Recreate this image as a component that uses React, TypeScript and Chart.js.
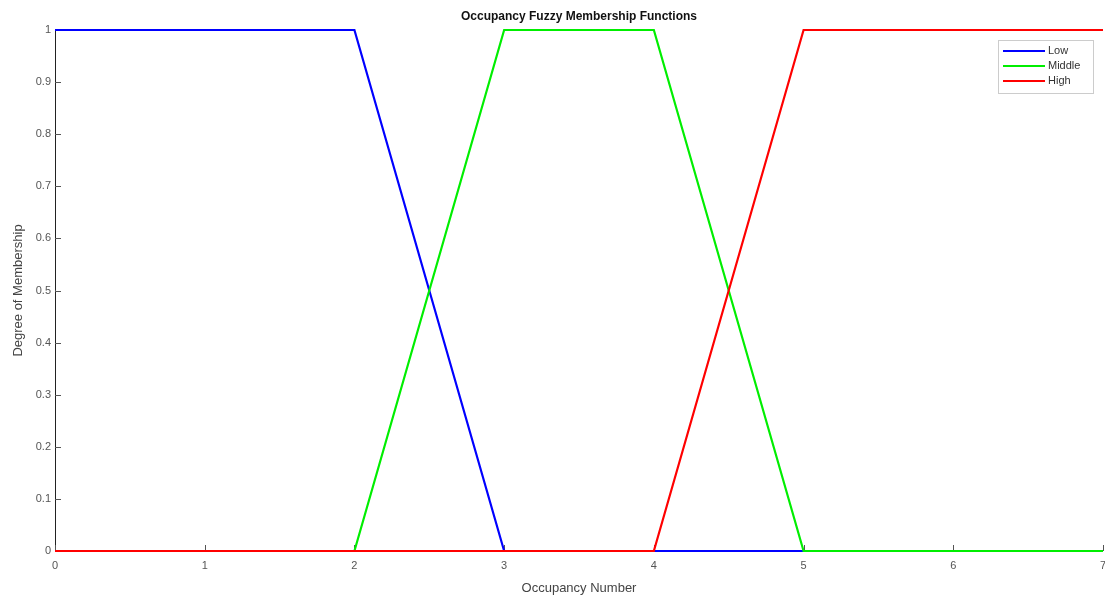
import React, { useEffect, useRef } from "react";
import { Chart, registerables } from "chart.js";
Chart.register(...registerables);

const xTicks = [0, 1, 2, 3, 4, 5, 6, 7];
const yTicks = [0, 0.1, 0.2, 0.3, 0.4, 0.5, 0.6, 0.7, 0.8, 0.9, 1];
const lowX = [0, 2, 3, 7];
const lowY = [1, 1, 0, 0];
const middleX = [0, 2, 3, 4, 5, 7];
const middleY = [0, 0, 1, 1, 0, 0];
const highX = [0, 4, 5, 7];
const highY = [0, 0, 1, 1];
const seriesNames = ["Low", "Middle", "High"];
const seriesColors = ["#0000ff", "#00ee00", "#ff0000"];

const FONT = "'Liberation Sans', Arial, sans-serif";

const pts = (xs: number[], ys: number[]) => xs.map((x, i) => ({ x, y: ys[i] }));

export default function App() {
  const ref = useRef<HTMLCanvasElement>(null);
  useEffect(() => {
    const decor = {
      id: "decor",
      beforeDatasetsDraw(chart: any) {
        const ctx = chart.ctx;
        const a = chart.chartArea;
        const xs = chart.scales.x;
        const ys = chart.scales.y;
        ctx.save();
        ctx.strokeStyle = "#222";
        ctx.lineWidth = 1;
        ctx.beginPath();
        ctx.moveTo(a.left + 0.5, a.top);
        ctx.lineTo(a.left + 0.5, a.bottom + 0.5);
        ctx.lineTo(a.right, a.bottom + 0.5);
        ctx.stroke();
        ctx.strokeStyle = "#555";
        ctx.beginPath();
        yTicks.forEach((v) => {
          const y = Math.round(ys.getPixelForValue(v)) + 0.5;
          ctx.moveTo(a.left, y);
          ctx.lineTo(a.left + 6, y);
        });
        xTicks.forEach((v) => {
          const x = Math.round(xs.getPixelForValue(v)) + 0.5;
          ctx.moveTo(x, a.bottom);
          ctx.lineTo(x, a.bottom - 6);
        });
        ctx.stroke();
        ctx.restore();
      },
      afterDraw(chart: any) {
        const ctx = chart.ctx;
        const a = chart.chartArea;
        const xs = chart.scales.x;
        const ys = chart.scales.y;
        ctx.save();
        ctx.fillStyle = "#555";
        ctx.font = `11px ${FONT}`;
        ctx.textAlign = "right";
        ctx.textBaseline = "middle";
        yTicks.forEach((v) => {
          ctx.fillText(String(v), a.left - 4, ys.getPixelForValue(v));
        });
        ctx.textAlign = "center";
        ctx.textBaseline = "top";
        xTicks.forEach((v) => {
          ctx.fillText(String(v), xs.getPixelForValue(v), a.bottom + 9);
        });
        const cx = (a.left + a.right) / 2;
        ctx.fillStyle = "#111";
        ctx.font = `bold 12px ${FONT}`;
        ctx.textBaseline = "middle";
        ctx.fillText("Occupancy Fuzzy Membership Functions", cx, 17);
        ctx.fillStyle = "#444";
        ctx.font = `13px ${FONT}`;
        ctx.fillText("Occupancy Number", cx, 588);
        ctx.save();
        ctx.translate(18, (a.top + a.bottom) / 2);
        ctx.rotate(-Math.PI / 2);
        ctx.fillText("Degree of Membership", 0, 0);
        ctx.restore();
        const lx = 998, ly = 40, lw = 95, lh = 53;
        ctx.fillStyle = "#fff";
        ctx.fillRect(lx, ly, lw, lh);
        ctx.strokeStyle = "#ccc";
        ctx.lineWidth = 1;
        ctx.strokeRect(lx + 0.5, ly + 0.5, lw, lh);
        ctx.font = `11px ${FONT}`;
        ctx.textAlign = "left";
        seriesNames.forEach((n, i) => {
          const y = 51 + i * 15;
          ctx.strokeStyle = seriesColors[i];
          ctx.lineWidth = 2;
          ctx.beginPath();
          ctx.moveTo(1003, y);
          ctx.lineTo(1045, y);
          ctx.stroke();
          ctx.fillStyle = "#333";
          ctx.fillText(n, 1048, y);
        });
        ctx.restore();
      },
    };
    const chart = new Chart(ref.current!, {
      type: "line",
      data: {
        datasets: [
          { label: seriesNames[0], data: pts(lowX, lowY), borderColor: seriesColors[0], order: 2 },
          { label: seriesNames[1], data: pts(middleX, middleY), borderColor: seriesColors[1], order: 1 },
          { label: seriesNames[2], data: pts(highX, highY), borderColor: seriesColors[2], order: 0 },
        ].map((d) => ({ ...d, borderWidth: 2.2, pointRadius: 0, tension: 0, fill: false, clip: 4 })),
      },
      options: {
        animation: false,
        responsive: false,
        layout: { padding: { left: 55, top: 30, right: 2, bottom: 45 } },
        plugins: { legend: { display: false }, title: { display: false }, tooltip: { enabled: false } },
        scales: {
          x: { type: "linear", min: 0, max: 7, display: false },
          y: { min: 0, max: 1, display: false },
        },
      },
      plugins: [decor],
    });
    return () => chart.destroy();
  }, []);
  return (
    <div style={{ position: "absolute", left: 0, top: 0, width: 1105, height: 596, background: "#fff" }}>
      <canvas ref={ref} width={1105} height={596} style={{ display: "block" }} />
    </div>
  );
}
